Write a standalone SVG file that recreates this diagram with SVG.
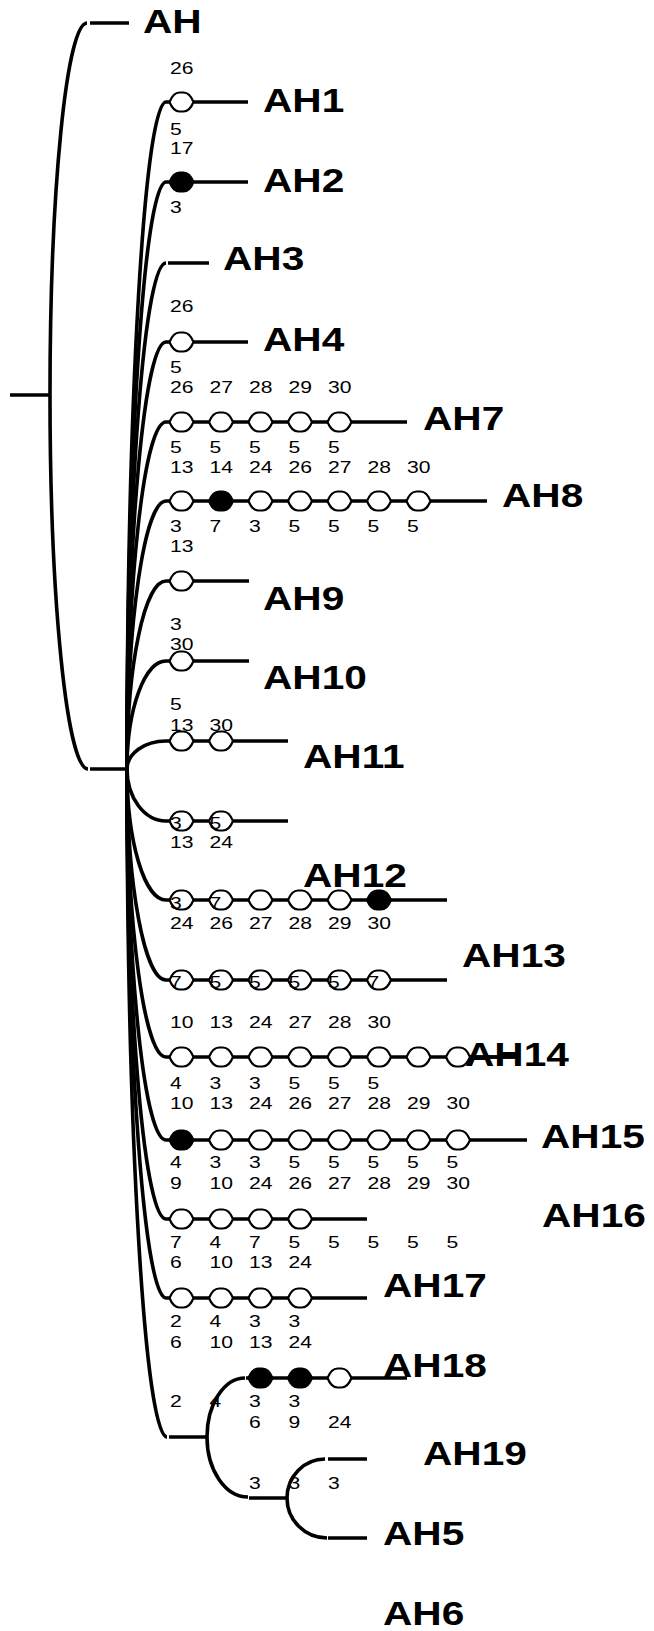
<svg xmlns="http://www.w3.org/2000/svg" xmlns:xlink="http://www.w3.org/1999/xlink" width="654" height="1631" viewBox="0 0 654 1631">
<style>
.e{fill:none;stroke:#000;stroke-width:3.6}
.l{fill:none;stroke:#000;stroke-width:3.3}
.t{font-family:"Liberation Sans",Arial,sans-serif;font-size:16.5px;fill:#000}
.L{font-family:"Liberation Sans",Arial,sans-serif;font-size:32.5px;font-weight:bold;fill:#000}
</style>
<defs>
<path id="o" d="M-12,0 C-10,-5 -6.5,-9.5 -2,-9.5 L2,-9.5 C6.5,-9.5 10,-5 12,0 C10,5 6.5,9.5 2,9.5 L-2,9.5 C-6.5,9.5 -10,5 -12,0 Z" fill="#fff" stroke="#000" stroke-width="2.2"/>
<path id="f" d="M-12,0 C-10,-5 -6.5,-9.5 -2,-9.5 L2,-9.5 C6.5,-9.5 10,-5 12,0 C10,5 6.5,9.5 2,9.5 L-2,9.5 C-6.5,9.5 -10,5 -12,0 Z" fill="#000" stroke="#000" stroke-width="2.2"/>
</defs>
<rect width="654" height="1631" fill="#fff"/>
<g id="connectors">
<path class="l" d="M10,395 H50"/>
<path class="e" d="M50,395 A37,372 0 0 1 87,23"/>
<path class="e" d="M50,395 A38,374 0 0 0 88,769"/>
<path class="l" d="M90,23 H129"/>
<path class="l" d="M90,769 H127"/>
<path class="e" d="M127,769 A39,667 0 0 1 166,102"/>
<path class="e" d="M127,769 A39,587 0 0 1 166,182"/>
<path class="e" d="M127,769 A39,506 0 0 1 166,263"/>
<path class="e" d="M127,769 A39,427 0 0 1 166,342"/>
<path class="e" d="M127,769 A39,347 0 0 1 166,422"/>
<path class="e" d="M127,769 A39,268 0 0 1 166,501"/>
<path class="e" d="M127,769 A39,188 0 0 1 166,581"/>
<path class="e" d="M127,769 A39,108 0 0 1 166,661"/>
<path class="e" d="M127,769 A39,28 0 0 1 166,741"/>
<path class="e" d="M127,769 A39,52 0 0 0 166,821"/>
<path class="e" d="M127,769 A39,131 0 0 0 166,900"/>
<path class="e" d="M127,769 A39,211 0 0 0 166,980"/>
<path class="e" d="M127,769 A39,288 0 0 0 166,1057"/>
<path class="e" d="M127,769 A39,371 0 0 0 166,1140"/>
<path class="e" d="M127,769 A39,450 0 0 0 166,1219"/>
<path class="e" d="M127,769 A39,529 0 0 0 166,1298"/>
<path class="e" d="M127,769 A40,668 0 0 0 167,1437"/>
<path class="l" d="M169,1437 H207"/>
<path class="e" d="M207,1437 A38,59 0 0 1 245,1378"/>
<path class="e" d="M207,1437 A41,60 0 0 0 248,1497"/>
<path class="l" d="M249,1498 H287"/>
<path class="e" d="M287,1498 A38,39 0 0 1 325,1459"/>
<path class="e" d="M287,1498 A40,40 0 0 0 327,1538"/>
</g>
<g id="AH">
<text class="L" transform="matrix(1.25 0 0 1 143 33)">AH</text>
</g>
<g id="AH1">
<path class="l" d="M166,102 H248"/>
<use xlink:href="#o" x="181.5" y="102"/>
<text class="t" transform="matrix(1.28 0 0 1 170 74)">26</text>
<text class="t" transform="matrix(1.28 0 0 1 170 135)">5</text>
<text class="L" transform="matrix(1.25 0 0 1 263 112)">AH1</text>
</g>
<g id="AH2">
<path class="l" d="M166,182 H248"/>
<use xlink:href="#f" x="181.5" y="182"/>
<text class="t" transform="matrix(1.28 0 0 1 170 154)">17</text>
<text class="t" transform="matrix(1.28 0 0 1 170 213)">3</text>
<text class="L" transform="matrix(1.25 0 0 1 263 192)">AH2</text>
</g>
<g id="AH3">
<path class="l" d="M168,263 H209"/>
<text class="L" transform="matrix(1.25 0 0 1 223 270)">AH3</text>
</g>
<g id="AH4">
<path class="l" d="M166,342 H248"/>
<use xlink:href="#o" x="181.5" y="342"/>
<text class="t" transform="matrix(1.28 0 0 1 170 312)">26</text>
<text class="t" transform="matrix(1.28 0 0 1 170 373)">5</text>
<text class="L" transform="matrix(1.25 0 0 1 263 351)">AH4</text>
</g>
<g id="AH7">
<path class="l" d="M166,422 H407"/>
<use xlink:href="#o" x="181.5" y="422"/>
<use xlink:href="#o" x="221" y="422"/>
<use xlink:href="#o" x="260.5" y="422"/>
<use xlink:href="#o" x="300" y="422"/>
<use xlink:href="#o" x="339.5" y="422"/>
<text class="t" transform="matrix(1.28 0 0 1 170 393)">26</text>
<text class="t" transform="matrix(1.28 0 0 1 209.5 393)">27</text>
<text class="t" transform="matrix(1.28 0 0 1 249 393)">28</text>
<text class="t" transform="matrix(1.28 0 0 1 288.5 393)">29</text>
<text class="t" transform="matrix(1.28 0 0 1 328 393)">30</text>
<text class="t" transform="matrix(1.28 0 0 1 170 453)">5</text>
<text class="t" transform="matrix(1.28 0 0 1 209.5 453)">5</text>
<text class="t" transform="matrix(1.28 0 0 1 249 453)">5</text>
<text class="t" transform="matrix(1.28 0 0 1 288.5 453)">5</text>
<text class="t" transform="matrix(1.28 0 0 1 328 453)">5</text>
<text class="L" transform="matrix(1.25 0 0 1 423 430)">AH7</text>
</g>
<g id="AH8">
<path class="l" d="M166,501 H487"/>
<use xlink:href="#o" x="181.5" y="501"/>
<use xlink:href="#f" x="221" y="501"/>
<use xlink:href="#o" x="260.5" y="501"/>
<use xlink:href="#o" x="300" y="501"/>
<use xlink:href="#o" x="339.5" y="501"/>
<use xlink:href="#o" x="379" y="501"/>
<use xlink:href="#o" x="418.5" y="501"/>
<text class="t" transform="matrix(1.28 0 0 1 170 473)">13</text>
<text class="t" transform="matrix(1.28 0 0 1 209.5 473)">14</text>
<text class="t" transform="matrix(1.28 0 0 1 249 473)">24</text>
<text class="t" transform="matrix(1.28 0 0 1 288.5 473)">26</text>
<text class="t" transform="matrix(1.28 0 0 1 328 473)">27</text>
<text class="t" transform="matrix(1.28 0 0 1 367.5 473)">28</text>
<text class="t" transform="matrix(1.28 0 0 1 407 473)">30</text>
<text class="t" transform="matrix(1.28 0 0 1 170 532)">3</text>
<text class="t" transform="matrix(1.28 0 0 1 209.5 532)">7</text>
<text class="t" transform="matrix(1.28 0 0 1 249 532)">3</text>
<text class="t" transform="matrix(1.28 0 0 1 288.5 532)">5</text>
<text class="t" transform="matrix(1.28 0 0 1 328 532)">5</text>
<text class="t" transform="matrix(1.28 0 0 1 367.5 532)">5</text>
<text class="t" transform="matrix(1.28 0 0 1 407 532)">5</text>
<text class="L" transform="matrix(1.25 0 0 1 502 507)">AH8</text>
</g>
<g id="AH9">
<path class="l" d="M166,581 H249"/>
<use xlink:href="#o" x="181.5" y="581"/>
<text class="t" transform="matrix(1.28 0 0 1 170 552)">13</text>
<text class="t" transform="matrix(1.28 0 0 1 170 630)">3</text>
<text class="L" transform="matrix(1.25 0 0 1 263 610)">AH9</text>
</g>
<g id="AH10">
<path class="l" d="M166,661 H249"/>
<use xlink:href="#o" x="181.5" y="661"/>
<text class="t" transform="matrix(1.28 0 0 1 170 650)">30</text>
<text class="t" transform="matrix(1.28 0 0 1 170 710)">5</text>
<text class="L" transform="matrix(1.25 0 0 1 263 689)">AH10</text>
</g>
<g id="AH11">
<path class="l" d="M166,741 H288"/>
<use xlink:href="#o" x="181.5" y="741"/>
<use xlink:href="#o" x="221" y="741"/>
<text class="t" transform="matrix(1.28 0 0 1 170 731)">13</text>
<text class="t" transform="matrix(1.28 0 0 1 209.5 731)">30</text>
<text class="L" transform="matrix(1.25 0 0 1 303 768)">AH11</text>
</g>
<g id="row821">
<path class="l" d="M166,821 H288"/>
<use xlink:href="#o" x="181.5" y="821"/>
<use xlink:href="#o" x="221" y="821"/>
<text class="t" transform="matrix(1.28 0 0 1 170 829)">3</text>
<text class="t" transform="matrix(1.28 0 0 1 209.5 829)">5</text>
<text class="t" transform="matrix(1.28 0 0 1 170 848)">13</text>
<text class="t" transform="matrix(1.28 0 0 1 209.5 848)">24</text>
</g>
<g id="AH12">
<path class="l" d="M166,900 H447"/>
<use xlink:href="#o" x="181.5" y="900"/>
<use xlink:href="#o" x="221" y="900"/>
<use xlink:href="#o" x="260.5" y="900"/>
<use xlink:href="#o" x="300" y="900"/>
<use xlink:href="#o" x="339.5" y="900"/>
<use xlink:href="#f" x="379" y="900"/>
<text class="t" transform="matrix(1.28 0 0 1 170 909)">3</text>
<text class="t" transform="matrix(1.28 0 0 1 209.5 909)">7</text>
<text class="t" transform="matrix(1.28 0 0 1 170 929)">24</text>
<text class="t" transform="matrix(1.28 0 0 1 209.5 929)">26</text>
<text class="t" transform="matrix(1.28 0 0 1 249 929)">27</text>
<text class="t" transform="matrix(1.28 0 0 1 288.5 929)">28</text>
<text class="t" transform="matrix(1.28 0 0 1 328 929)">29</text>
<text class="t" transform="matrix(1.28 0 0 1 367.5 929)">30</text>
<text class="L" transform="matrix(1.25 0 0 1 303 887)">AH12</text>
</g>
<g id="AH13">
<path class="l" d="M166,980 H447"/>
<use xlink:href="#o" x="181.5" y="980"/>
<use xlink:href="#o" x="221" y="980"/>
<use xlink:href="#o" x="260.5" y="980"/>
<use xlink:href="#o" x="300" y="980"/>
<use xlink:href="#o" x="339.5" y="980"/>
<use xlink:href="#o" x="379" y="980"/>
<text class="t" transform="matrix(1.28 0 0 1 170 988)">7</text>
<text class="t" transform="matrix(1.28 0 0 1 209.5 988)">5</text>
<text class="t" transform="matrix(1.28 0 0 1 249 988)">5</text>
<text class="t" transform="matrix(1.28 0 0 1 288.5 988)">5</text>
<text class="t" transform="matrix(1.28 0 0 1 328 988)">5</text>
<text class="t" transform="matrix(1.28 0 0 1 367.5 988)">7</text>
<text class="t" transform="matrix(1.28 0 0 1 170 1028)">10</text>
<text class="t" transform="matrix(1.28 0 0 1 209.5 1028)">13</text>
<text class="t" transform="matrix(1.28 0 0 1 249 1028)">24</text>
<text class="t" transform="matrix(1.28 0 0 1 288.5 1028)">27</text>
<text class="t" transform="matrix(1.28 0 0 1 328 1028)">28</text>
<text class="t" transform="matrix(1.28 0 0 1 367.5 1028)">30</text>
<text class="L" transform="matrix(1.25 0 0 1 462 967)">AH13</text>
</g>
<g id="AH14">
<path class="l" d="M166,1057 H520"/>
<use xlink:href="#o" x="181.5" y="1057"/>
<use xlink:href="#o" x="221" y="1057"/>
<use xlink:href="#o" x="260.5" y="1057"/>
<use xlink:href="#o" x="300" y="1057"/>
<use xlink:href="#o" x="339.5" y="1057"/>
<use xlink:href="#o" x="379" y="1057"/>
<use xlink:href="#o" x="418.5" y="1057"/>
<use xlink:href="#o" x="458" y="1057"/>
<text class="L" transform="matrix(1.25 0 0 1 465 1066)">AH14</text>
<path class="l" d="M470,1057 H520"/>
<text class="t" transform="matrix(1.28 0 0 1 170 1089)">4</text>
<text class="t" transform="matrix(1.28 0 0 1 209.5 1089)">3</text>
<text class="t" transform="matrix(1.28 0 0 1 249 1089)">3</text>
<text class="t" transform="matrix(1.28 0 0 1 288.5 1089)">5</text>
<text class="t" transform="matrix(1.28 0 0 1 328 1089)">5</text>
<text class="t" transform="matrix(1.28 0 0 1 367.5 1089)">5</text>
<text class="t" transform="matrix(1.28 0 0 1 170 1109)">10</text>
<text class="t" transform="matrix(1.28 0 0 1 209.5 1109)">13</text>
<text class="t" transform="matrix(1.28 0 0 1 249 1109)">24</text>
<text class="t" transform="matrix(1.28 0 0 1 288.5 1109)">26</text>
<text class="t" transform="matrix(1.28 0 0 1 328 1109)">27</text>
<text class="t" transform="matrix(1.28 0 0 1 367.5 1109)">28</text>
<text class="t" transform="matrix(1.28 0 0 1 407 1109)">29</text>
<text class="t" transform="matrix(1.28 0 0 1 446.5 1109)">30</text>
</g>
<g id="AH15">
<path class="l" d="M166,1140 H527"/>
<use xlink:href="#f" x="181.5" y="1140"/>
<use xlink:href="#o" x="221" y="1140"/>
<use xlink:href="#o" x="260.5" y="1140"/>
<use xlink:href="#o" x="300" y="1140"/>
<use xlink:href="#o" x="339.5" y="1140"/>
<use xlink:href="#o" x="379" y="1140"/>
<use xlink:href="#o" x="418.5" y="1140"/>
<use xlink:href="#o" x="458" y="1140"/>
<text class="t" transform="matrix(1.28 0 0 1 170 1168)">4</text>
<text class="t" transform="matrix(1.28 0 0 1 209.5 1168)">3</text>
<text class="t" transform="matrix(1.28 0 0 1 249 1168)">3</text>
<text class="t" transform="matrix(1.28 0 0 1 288.5 1168)">5</text>
<text class="t" transform="matrix(1.28 0 0 1 328 1168)">5</text>
<text class="t" transform="matrix(1.28 0 0 1 367.5 1168)">5</text>
<text class="t" transform="matrix(1.28 0 0 1 407 1168)">5</text>
<text class="t" transform="matrix(1.28 0 0 1 446.5 1168)">5</text>
<text class="t" transform="matrix(1.28 0 0 1 170 1189)">9</text>
<text class="t" transform="matrix(1.28 0 0 1 209.5 1189)">10</text>
<text class="t" transform="matrix(1.28 0 0 1 249 1189)">24</text>
<text class="t" transform="matrix(1.28 0 0 1 288.5 1189)">26</text>
<text class="t" transform="matrix(1.28 0 0 1 328 1189)">27</text>
<text class="t" transform="matrix(1.28 0 0 1 367.5 1189)">28</text>
<text class="t" transform="matrix(1.28 0 0 1 407 1189)">29</text>
<text class="t" transform="matrix(1.28 0 0 1 446.5 1189)">30</text>
<text class="L" transform="matrix(1.25 0 0 1 541 1148)">AH15</text>
</g>
<g id="AH16">
<path class="l" d="M166,1219 H367"/>
<use xlink:href="#o" x="181.5" y="1219"/>
<use xlink:href="#o" x="221" y="1219"/>
<use xlink:href="#o" x="260.5" y="1219"/>
<use xlink:href="#o" x="300" y="1219"/>
<text class="t" transform="matrix(1.28 0 0 1 170 1248)">7</text>
<text class="t" transform="matrix(1.28 0 0 1 209.5 1248)">4</text>
<text class="t" transform="matrix(1.28 0 0 1 249 1248)">7</text>
<text class="t" transform="matrix(1.28 0 0 1 288.5 1248)">5</text>
<text class="t" transform="matrix(1.28 0 0 1 328 1248)">5</text>
<text class="t" transform="matrix(1.28 0 0 1 367.5 1248)">5</text>
<text class="t" transform="matrix(1.28 0 0 1 407 1248)">5</text>
<text class="t" transform="matrix(1.28 0 0 1 446.5 1248)">5</text>
<text class="t" transform="matrix(1.28 0 0 1 170 1268)">6</text>
<text class="t" transform="matrix(1.28 0 0 1 209.5 1268)">10</text>
<text class="t" transform="matrix(1.28 0 0 1 249 1268)">13</text>
<text class="t" transform="matrix(1.28 0 0 1 288.5 1268)">24</text>
<text class="L" transform="matrix(1.25 0 0 1 542 1227)">AH16</text>
</g>
<g id="AH17">
<path class="l" d="M166,1298 H367"/>
<use xlink:href="#o" x="181.5" y="1298"/>
<use xlink:href="#o" x="221" y="1298"/>
<use xlink:href="#o" x="260.5" y="1298"/>
<use xlink:href="#o" x="300" y="1298"/>
<text class="t" transform="matrix(1.28 0 0 1 170 1327)">2</text>
<text class="t" transform="matrix(1.28 0 0 1 209.5 1327)">4</text>
<text class="t" transform="matrix(1.28 0 0 1 249 1327)">3</text>
<text class="t" transform="matrix(1.28 0 0 1 288.5 1327)">3</text>
<text class="t" transform="matrix(1.28 0 0 1 170 1348)">6</text>
<text class="t" transform="matrix(1.28 0 0 1 209.5 1348)">10</text>
<text class="t" transform="matrix(1.28 0 0 1 249 1348)">13</text>
<text class="t" transform="matrix(1.28 0 0 1 288.5 1348)">24</text>
<text class="L" transform="matrix(1.25 0 0 1 383 1297)">AH17</text>
</g>
<g id="AH18">
<path class="l" d="M246,1378 H407"/>
<use xlink:href="#f" x="260.5" y="1378"/>
<use xlink:href="#f" x="300" y="1378"/>
<use xlink:href="#o" x="339.5" y="1378"/>
<text class="t" transform="matrix(1.28 0 0 1 170 1407)">2</text>
<text class="t" transform="matrix(1.28 0 0 1 209.5 1407)">4</text>
<text class="t" transform="matrix(1.28 0 0 1 249 1407)">3</text>
<text class="t" transform="matrix(1.28 0 0 1 288.5 1407)">3</text>
<text class="t" transform="matrix(1.28 0 0 1 249 1428)">6</text>
<text class="t" transform="matrix(1.28 0 0 1 288.5 1428)">9</text>
<text class="t" transform="matrix(1.28 0 0 1 328 1428)">24</text>
<text class="L" transform="matrix(1.25 0 0 1 383 1377)">AH18</text>
</g>
<g id="AH19">
<path class="l" d="M328,1459 H367"/>
<text class="t" transform="matrix(1.28 0 0 1 249 1489)">3</text>
<text class="t" transform="matrix(1.28 0 0 1 288.5 1489)">3</text>
<text class="t" transform="matrix(1.28 0 0 1 328 1489)">3</text>
<text class="L" transform="matrix(1.25 0 0 1 423 1465)">AH19</text>
</g>
<g id="AH5">
<path class="l" d="M328,1538 H367"/>
<text class="L" transform="matrix(1.25 0 0 1 383 1545)">AH5</text>
</g>
<g id="AH6">
<text class="L" transform="matrix(1.25 0 0 1 383 1625)">AH6</text>
</g>
</svg>
